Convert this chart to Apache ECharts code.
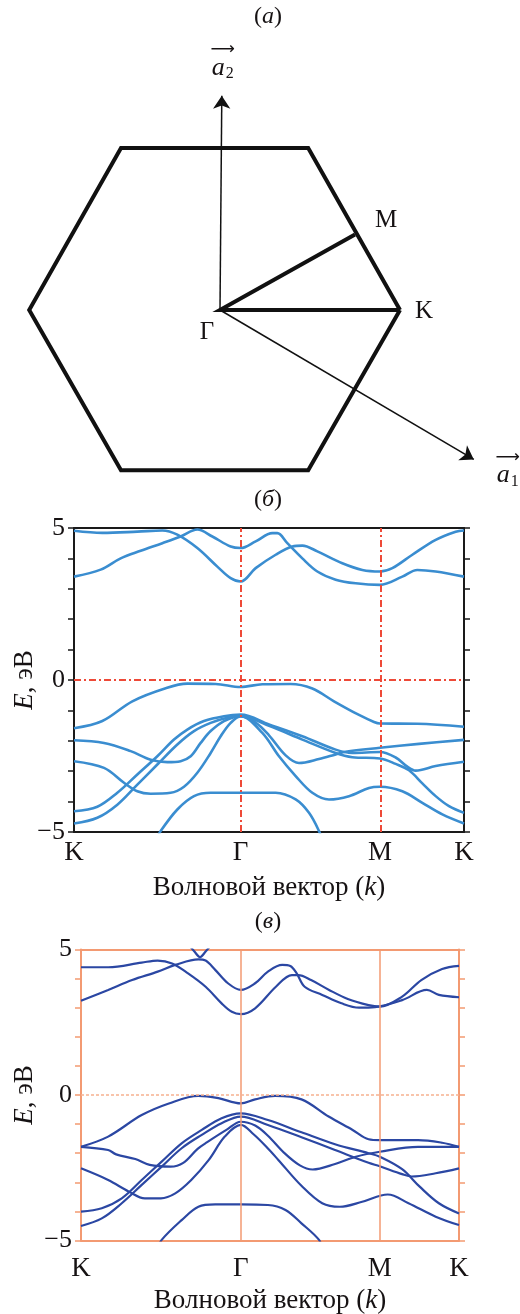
<!DOCTYPE html>
<html>
<head>
<meta charset="utf-8">
<script src="https://cdn.jsdelivr.net/npm/echarts@6/dist/echarts.min.js"></script>
<style>
  html, body { margin: 0; padding: 0; background: #fff; }
  #main { width: 520px; height: 1314px; }
</style>
</head>
<body>
<div id="main"></div>
<script>
// ---------- (а) зона Бриллюэна, единица = |ΓK| ----------
const hexagon = [[1, 0], [0.49, 0.9], [-0.55, 0.9], [-1.06, 0], [-0.55, -0.89], [0.49, -0.89], [1, 0]]
const pointG = [0, 0]
const pointK = [1, 0]
const pointM = [0.75, 0.42]
const vecA1 = [1.41, -0.83]
const vecA2 = [0.01, 1.19]

// ---------- ось k: K-Γ-M-K ----------
const kLabels = ['K', 'Γ', 'M', 'K']
const kTicksB = [0, 1, 1.836, 2.34]
const kTicksC = [0, 1, 1.87, 2.366]
const eLabels = [-5, 0, 5]

// ---------- (б) зоны, [k, E] ----------
const condB1 = [[0,4.91],[0.17,4.84],[0.38,4.88],[0.53,4.92],[0.62,4.78],[0.74,4.34],[0.86,3.73],[0.94,3.35],[1,3.24],[1.09,3.68],[1.21,4.12],[1.31,4.39],[1.37,4.42],[1.46,4.23],[1.61,3.84],[1.73,3.62],[1.836,3.57],[1.91,3.68],[2.03,4.12],[2.17,4.61],[2.29,4.88],[2.34,4.92]]
const condB2 = [[0,3.40],[0.16,3.63],[0.28,4.0],[0.40,4.25],[0.53,4.5],[0.64,4.72],[0.74,4.95],[0.83,4.72],[0.94,4.39],[1,4.34],[1.09,4.56],[1.19,4.83],[1.22,4.83],[1.28,4.5],[1.37,4.0],[1.46,3.57],[1.57,3.30],[1.69,3.18],[1.836,3.13],[1.97,3.40],[2.06,3.62],[2.17,3.57],[2.34,3.40]]
const valB1 = [[0,-1.59],[0.17,-1.35],[0.35,-0.70],[0.55,-0.27],[0.68,-0.12],[0.85,-0.13],[1,-0.23],[1.13,-0.14],[1.30,-0.13],[1.43,-0.28],[1.56,-0.70],[1.71,-1.15],[1.80,-1.38],[1.836,-1.43],[2.06,-1.44],[2.34,-1.54]]
const valB2 = [[0,-1.98],[0.18,-2.07],[0.34,-2.34],[0.46,-2.62],[0.56,-2.70],[0.64,-2.67],[0.70,-2.51],[0.76,-2.07],[0.82,-1.68],[0.90,-1.35],[1,-1.19],[1.09,-1.40],[1.17,-1.82],[1.27,-2.48],[1.35,-2.73],[1.47,-2.60],[1.57,-2.45],[1.63,-2.36],[1.836,-2.23],[2.07,-2.10],[2.34,-1.97]]
const valB3 = [[0,-2.67],[0.18,-2.89],[0.30,-3.38],[0.38,-3.66],[0.46,-3.74],[0.58,-3.71],[0.66,-3.51],[0.74,-3.05],[0.82,-2.40],[0.88,-1.85],[0.94,-1.41],[1,-1.19],[1.13,-1.74],[1.23,-2.51],[1.33,-3.16],[1.43,-3.71],[1.53,-3.93],[1.65,-3.82],[1.77,-3.55],[1.836,-3.51],[1.97,-3.66],[2.09,-4.04],[2.21,-4.42],[2.34,-4.72]]
const valB4 = [[0,-4.32],[0.14,-4.17],[0.26,-3.71],[0.38,-3.11],[0.50,-2.51],[0.60,-1.96],[0.68,-1.63],[0.78,-1.35],[0.90,-1.19],[1,-1.14],[1.17,-1.46],[1.37,-1.85],[1.57,-2.29],[1.67,-2.40],[1.836,-2.37],[1.93,-2.55],[2.00,-2.85],[2.05,-2.98],[2.17,-2.83],[2.34,-2.69]]
const valB5 = [[0,-4.72],[0.14,-4.53],[0.26,-4.10],[0.38,-3.44],[0.50,-2.78],[0.62,-2.12],[0.72,-1.68],[0.82,-1.41],[0.92,-1.24],[1,-1.19],[1.17,-1.51],[1.37,-1.96],[1.57,-2.40],[1.67,-2.54],[1.836,-2.58],[1.93,-2.76],[2.01,-2.97],[2.09,-3.40],[2.17,-3.82],[2.25,-4.15],[2.34,-4.37]]
const valB6 = [[0.49,-5.3],[0.52,-4.97],[0.62,-4.26],[0.72,-3.82],[0.82,-3.71],[1,-3.71],[1.21,-3.71],[1.33,-3.93],[1.41,-4.37],[1.47,-4.97],[1.49,-5.3]]

// ---------- (в) зоны, [k, E] ----------
const condC1 = [[0,4.39],[0.17,4.39],[0.38,4.55],[0.48,4.62],[0.57,4.52],[0.67,4.18],[0.78,3.72],[0.88,3.15],[0.944,2.86],[1,2.78],[1.09,2.98],[1.22,3.72],[1.32,4.12],[1.36,4.12],[1.44,3.95],[1.55,3.62],[1.67,3.30],[1.80,3.09],[1.87,3.04],[2.01,3.38],[2.13,3.95],[2.26,4.33],[2.366,4.44]]
const condC2 = [[0,3.24],[0.17,3.61],[0.32,3.95],[0.48,4.24],[0.59,4.47],[0.735,4.66],[0.78,4.62],[0.84,4.30],[0.92,3.84],[1,3.61],[1.09,3.84],[1.17,4.24],[1.26,4.47],[1.31,4.43],[1.35,4.18],[1.40,3.72],[1.51,3.44],[1.63,3.15],[1.74,3.00],[1.84,3.02],[2.01,3.26],[2.165,3.61],[2.24,3.44],[2.366,3.36]]
const condC3 = [[0.67,5.2],[0.71,4.93],[0.745,4.74],[0.78,4.93],[0.82,5.2]]
const valC1 = [[0,-1.78],[0.17,-1.43],[0.38,-0.69],[0.55,-0.29],[0.735,-0.03],[0.86,-0.11],[1,-0.29],[1.09,-0.15],[1.215,-0.03],[1.38,-0.15],[1.55,-0.74],[1.70,-1.20],[1.80,-1.52],[1.87,-1.55],[2.11,-1.55],[2.26,-1.64],[2.366,-1.78]]
const valC2 = [[0,-1.78],[0.17,-1.89],[0.22,-2.04],[0.34,-2.20],[0.43,-2.40],[0.56,-2.46],[0.64,-2.33],[0.73,-1.85],[0.79,-1.62],[0.91,-1.20],[1,-0.92],[1.09,-1.05],[1.17,-1.40],[1.27,-1.98],[1.37,-2.42],[1.45,-2.56],[1.59,-2.37],[1.72,-2.12],[1.87,-1.95],[2.11,-1.78],[2.366,-1.78]]
const valC3 = [[0,-2.52],[0.17,-2.92],[0.30,-3.32],[0.40,-3.55],[0.50,-3.55],[0.59,-3.38],[0.69,-2.92],[0.80,-2.23],[0.90,-1.43],[1,-1.03],[1.08,-1.35],[1.16,-1.78],[1.235,-2.23],[1.38,-3.12],[1.51,-3.72],[1.62,-3.84],[1.76,-3.67],[1.92,-3.42],[2.05,-3.72],[2.22,-4.18],[2.366,-4.47]]
const valC4 = [[0,-4.01],[0.13,-3.89],[0.255,-3.55],[0.38,-2.92],[0.505,-2.29],[0.63,-1.66],[0.756,-1.20],[0.88,-0.80],[1,-0.63],[1.17,-0.86],[1.38,-1.28],[1.59,-1.69],[1.80,-2.0],[1.87,-2.12],[2.01,-2.55],[2.12,-3.15],[2.24,-3.72],[2.366,-4.07]]
const valC5 = [[0,-4.50],[0.13,-4.24],[0.255,-3.72],[0.38,-3.09],[0.505,-2.46],[0.63,-1.83],[0.756,-1.37],[0.88,-0.97],[1,-0.74],[1.17,-1.03],[1.38,-1.45],[1.59,-1.89],[1.80,-2.33],[1.87,-2.45],[2.01,-2.72],[2.07,-2.80],[2.22,-2.69],[2.366,-2.52]]
const valC6 = [[0.48,-5.3],[0.505,-4.98],[0.63,-4.30],[0.735,-3.84],[0.84,-3.76],[1,-3.76],[1.17,-3.78],[1.28,-3.95],[1.38,-4.41],[1.49,-4.98],[1.51,-5.3]]

const FONT = 'Liberation Serif'
const INK = '#161213'
const BLUE_B = '#3a8dd0'
const BLUE_C = '#2b47a3'
const RED = '#ee4a38'
const ORANGE = '#f39a72'

const chart = echarts.init(document.getElementById('main'), null, { renderer: 'canvas' })

function kName(ticks, v) {
  const i = ticks.findIndex(t => Math.abs(t - v) < 1e-6)
  return i < 0 ? '' : kLabels[i]
}
function eName(v) {
  if (!eLabels.includes(v)) return ''
  return v < 0 ? '\u2212' + Math.abs(v) : String(v)
}

const richText = {
  t: { fontFamily: FONT, fontSize: 27, color: INK },
  i: { fontFamily: FONT, fontSize: 27, color: INK, fontStyle: 'italic' }
}
const richTitle = {
  t: { fontFamily: FONT, fontSize: 24, fill: INK },
  i: { fontFamily: FONT, fontSize: 24, fontStyle: 'italic', fill: INK }
}

function kAxis(grid, ticks, color, width, margin, gap) {
  return {
    gridIndex: grid, type: 'value', min: 0, max: ticks[3],
    axisLine: { show: true, onZero: false, lineStyle: { color: color, width: width } },
    axisTick: { show: false },
    splitLine: { show: false },
    axisLabel: {
      customValues: ticks, formatter: v => kName(ticks, v), margin: margin,
      fontFamily: FONT, fontSize: 27, color: INK
    },
    name: '{t|Волновой вектор (}{i|k}{t|)}',
    nameLocation: 'middle', nameGap: gap,
    nameTextStyle: { rich: richText }
  }
}
function topAxis(grid, max, color, width) {
  return {
    gridIndex: grid, type: 'value', position: 'top', min: 0, max: max,
    axisLine: { show: true, onZero: false, lineStyle: { color: color, width: width } },
    axisTick: { show: false }, axisLabel: { show: false }, splitLine: { show: false }
  }
}
function eAxis(grid, side, color, width, gap) {
  const ax = {
    gridIndex: grid, type: 'value', position: side, min: -5, max: 5, interval: 1,
    axisLine: { show: true, onZero: false, lineStyle: { color: color, width: width } },
    axisTick: { show: true, length: 6, lineStyle: { color: color, width: 1.5 } },
    splitLine: { show: false },
    axisLabel: { show: side === 'left', formatter: eName, margin: 9, fontFamily: FONT, fontSize: 26, color: INK }
  }
  if (side === 'left') {
    ax.name = '{i|E}{t|, эВ}'
    ax.nameLocation = 'middle'
    ax.nameGap = gap
    ax.nameRotate = 90
    ax.nameMoveOverlap = false
    ax.nameTextStyle = { rich: richText }
  }
  return ax
}

function band(data, xi, yi, color, width) {
  return {
    type: 'line', xAxisIndex: xi, yAxisIndex: yi, data: data,
    showSymbol: false, smooth: 0.35, clip: true, silent: true, z: 3,
    lineStyle: { color: color, width: width }
  }
}

const bandsB = [condB1, condB2, valB1, valB2, valB3, valB4, valB5, valB6]
const bandsC = [condC1, condC2, condC3, valC1, valC2, valC3, valC4, valC5, valC6]

const series = [
  // шестиугольник и векторы
  {
    type: 'line', xAxisIndex: 0, yAxisIndex: 0, data: hexagon, showSymbol: false, silent: true,
    lineStyle: { color: '#111', width: 4, join: 'miter' },
    markLine: {
      silent: true, symbol: ['none', 'arrow'], symbolSize: 13,
      label: { show: false },
      lineStyle: { color: '#111', width: 1.5, type: 'solid' },
      data: [
        [{ coord: pointG }, { coord: vecA1 }],
        [{ coord: pointG }, { coord: vecA2 }]
      ]
    }
  },
  {
    type: 'line', xAxisIndex: 0, yAxisIndex: 0, data: [pointM, pointG, pointK], showSymbol: false, silent: true,
    lineStyle: { color: '#111', width: 4, join: 'miter' }
  },
  {
    type: 'scatter', xAxisIndex: 0, yAxisIndex: 0, symbolSize: 0, silent: true, clip: false,
    itemStyle: { opacity: 1 },
    label: {
      show: true, color: INK, fontFamily: FONT, fontSize: 25, align: 'center',
      rich: {
        ar: { fontFamily: 'DejaVu Sans', fontSize: 17, lineHeight: 12, color: INK, align: 'center' },
        v: { fontFamily: FONT, fontStyle: 'italic', fontSize: 26, lineHeight: 24, color: INK },
        s: { fontFamily: FONT, fontSize: 16, lineHeight: 24, color: INK, padding: [12, 0, 0, 1] }
      }
    },
    data: [
      { value: pointM, label: { formatter: 'M', offset: [31, -14] } },
      { value: pointK, label: { formatter: 'K', offset: [24, 1] } },
      { value: pointG, label: { formatter: 'Γ', offset: [-13, 22] } },
      { value: vecA1, label: { formatter: '{ar|⟶}\n{v|a}{s|1}', offset: [34, 10] } },
      { value: vecA2, label: { formatter: '{ar|⟶}\n{v|a}{s|2}', offset: [1, -34] } }
    ]
  },
  // линии симметрии (б)
  {
    type: 'line', xAxisIndex: 1, yAxisIndex: 1, data: [], silent: true, z: 1,
    markLine: {
      silent: true, symbol: 'none', label: { show: false },
      lineStyle: { color: RED, width: 2, type: [7, 3, 2, 3] },
      data: [{ xAxis: kTicksB[1] }, { xAxis: kTicksB[2] }, { yAxis: 0 }]
    }
  },
  // линии симметрии (в)
  {
    type: 'line', xAxisIndex: 3, yAxisIndex: 3, data: [], silent: true, z: 1,
    markLine: {
      silent: true, symbol: 'none', label: { show: false },
      lineStyle: { color: ORANGE, width: 1.5, type: 'solid' },
      data: [
        { xAxis: kTicksC[1] }, { xAxis: kTicksC[2] },
        { yAxis: 0, lineStyle: { type: [3, 2], color: '#f6b190', width: 1.5 } }
      ]
    }
  }
]
bandsB.forEach(d => series.push(band(d, 1, 1, BLUE_B, 2.6)))
bandsC.forEach(d => series.push(band(d, 3, 3, BLUE_C, 2.2)))

const option = {
  animation: false,
  backgroundColor: '#fff',
  textStyle: { fontFamily: FONT },
  graphic: [
    { type: 'text', x: 268, y: 17, style: { text: '{t|(}{i|а}{t|)}', rich: richTitle, align: 'center', verticalAlign: 'middle' } },
    { type: 'text', x: 268, y: 500, style: { text: '{t|(}{i|б}{t|)}', rich: richTitle, align: 'center', verticalAlign: 'middle' } },
    { type: 'text', x: 268, y: 922, style: { text: '{t|(}{i|в}{t|)}', rich: richTitle, align: 'center', verticalAlign: 'middle' } }
  ],
  grid: [
    { left: 4, top: 40, width: 504, height: 450, outerBoundsMode: 'none' },
    { left: 74, top: 528, width: 390, height: 304, outerBoundsMode: 'none' },
    { left: 81, top: 949.5, width: 378, height: 291, outerBoundsMode: 'none' }
  ],
  xAxis: [
    { gridIndex: 0, type: 'value', min: -1.2, max: 1.6, show: false },
    kAxis(1, kTicksB, '#1a1a1a', 2, 7, 42),
    topAxis(1, kTicksB[3], '#1a1a1a', 2),
    kAxis(2, kTicksC, ORANGE, 2, 15, 47),
    topAxis(2, kTicksC[3], ORANGE, 2)
  ],
  yAxis: [
    { gridIndex: 0, type: 'value', min: -1.0, max: 1.5, show: false },
    eAxis(1, 'left', '#1a1a1a', 2, 36),
    eAxis(1, 'right', '#1a1a1a', 2),
    eAxis(2, 'left', ORANGE, 2, 43),
    eAxis(2, 'right', ORANGE, 2)
  ],
  series: series
}
chart.setOption(option)
</script>
</body>
</html>
